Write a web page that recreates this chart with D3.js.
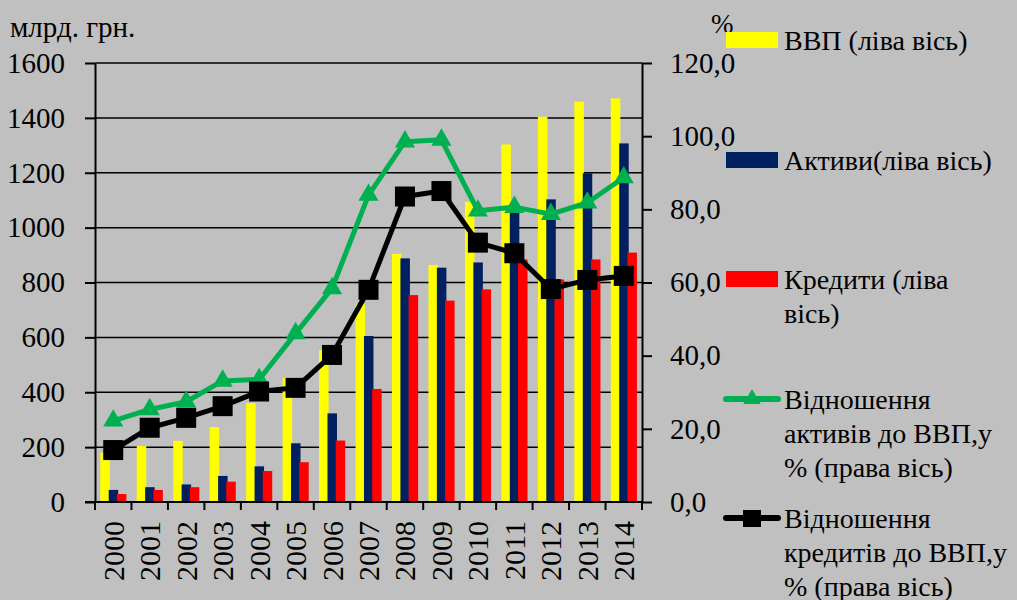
<!DOCTYPE html>
<html>
<head>
<meta charset="utf-8">
<script src="https://cdn.jsdelivr.net/npm/d3@7"></script>
<style>
  text { font-family: "Times New Roman", "Liberation Serif", serif !important; }
</style>
</head>
<body style="margin:0">
<div id="chart"></div>
<script>
let years = ["2000", "2001", "2002", "2003", "2004", "2005", "2006", "2007",
             "2008", "2009", "2010", "2011", "2012", "2013", "2014"];
let gdp = [180, 204, 223, 273, 360, 453, 554, 720, 904, 864, 1094, 1303, 1404, 1459, 1471];
let assets = [44, 54, 64, 95, 130, 214, 323, 605, 888, 854, 873, 1054, 1103, 1198, 1307];
let credits = [29, 44, 54, 74, 113, 145, 224, 412, 754, 734, 775, 884, 811, 884, 909];
let assetsRatio = [22.2, 25.3, 27.4, 33.1, 33.5, 46.1, 58.4, 83.9, 98.5, 99.0, 79.6, 80.6, 78.7, 81.8, 88.7];
let creditsRatio = [14.2, 20.3, 23.0, 26.2, 30.2, 31.2, 40.2, 58.0, 83.5, 85.0, 70.9, 68.0, 58.2, 60.7, 61.8];
let leftTicks = [0, 200, 400, 600, 800, 1000, 1200, 1400, 1600];
let rightTicks = [0, 20, 40, 60, 80, 100, 120];
let legendLabels = [
    ["ВВП (ліва вісь)"],
    ["Активи(ліва вісь)"],
    ["Кредити (ліва", "вісь)"],
    ["Відношення", "активів до ВВП,у", "% (права вісь)"],
    ["Відношення", "кредитів до ВВП,у", "% (права вісь)"]
];

let colorYellow = "#ffff00";
let colorNavy = "#002060";
let colorRed = "#ff0000";
let colorGreen = "#00b050";
let fontName = "Times New Roman";

let width = 1017,
    height = 600;

let svg = d3.select("#chart")
    .append("svg")
    .attr("width", width)
    .attr("height", height);

svg.append("rect")
    .attr("width", width)
    .attr("height", height)
    .attr("fill", "#c0c0c0");

let x = d3.scaleBand()
    .domain(years)
    .range([95, 642])
    .padding(0);

let yLeft = d3.scaleLinear()
    .domain([0, 1600])
    .range([502, 63]);

let yRight = d3.scaleLinear()
    .domain([0, 120])
    .range([502, 63]);

// gridlines
svg.selectAll(".grid")
    .data(leftTicks)
    .enter()
    .append("line")
    .attr("class", "grid")
    .attr("x1", 95)
    .attr("x2", 642)
    .attr("y1", function(d) { return yLeft(d); })
    .attr("y2", function(d) { return yLeft(d); })
    .attr("stroke", "#000")
    .attr("stroke-width", 1.5);

// bars: yellow, navy, red side by side with small overlap
let barW = 9.5;
let series = [
    {values: gdp, color: colorYellow, off: -8.2},
    {values: assets, color: colorNavy, off: 0.2},
    {values: credits, color: colorRed, off: 8.4}
];
years.forEach(function(yr, i) {
    series.forEach(function(s) {
        let cx = x(yr) + x.bandwidth() / 2 + s.off;
        svg.append("rect")
            .attr("x", cx - barW / 2)
            .attr("y", yLeft(s.values[i]))
            .attr("width", barW)
            .attr("height", yLeft(0) - yLeft(s.values[i]))
            .attr("fill", s.color);
    });
});

// axes
let leftAxis = svg.append("g")
    .attr("transform", "translate(95,0)")
    .call(d3.axisLeft(yLeft).tickValues(leftTicks).tickSize(10).tickPadding(20).tickSizeOuter(0)
        .tickFormat(d3.format("d")));

let rightAxis = svg.append("g")
    .attr("transform", "translate(642,0)")
    .call(d3.axisRight(yRight).tickValues(rightTicks).tickSize(10).tickPadding(18).tickSizeOuter(0)
        .tickFormat(function(d) { return d3.format(".1f")(d).replace(".", ","); }));

[leftAxis, rightAxis].forEach(function(ax) {
    ax.attr("font-family", fontName).attr("font-size", 29);
    ax.select(".domain").attr("stroke", "#000").attr("stroke-width", 2);
    ax.selectAll(".tick line").attr("stroke", "#000").attr("stroke-width", 2);
});

// bottom axis line and category boundary ticks
svg.append("line")
    .attr("x1", 85)
    .attr("x2", 642)
    .attr("y1", 502)
    .attr("y2", 502)
    .attr("stroke", "#000")
    .attr("stroke-width", 2);

svg.selectAll(".xtick")
    .data(years.concat(["end"]))
    .enter()
    .append("line")
    .attr("class", "xtick")
    .attr("x1", function(d, i) { return x.range()[0] + i * x.step(); })
    .attr("x2", function(d, i) { return x.range()[0] + i * x.step(); })
    .attr("y1", 502)
    .attr("y2", 510)
    .attr("stroke", "#000")
    .attr("stroke-width", 2);

svg.selectAll(".xlabel")
    .data(years)
    .enter()
    .append("text")
    .attr("class", "xlabel")
    .attr("transform", function(d) {
        return "translate(" + (x(d) + x.bandwidth() / 2) + ",521) rotate(-90)";
    })
    .attr("text-anchor", "end")
    .attr("dy", "0.35em")
    .attr("font-size", 30)
    .text(function(d) { return d; });

// ratio lines
let ratioLine = d3.line()
    .x(function(d, i) { return x(years[i]) + x.bandwidth() / 2; })
    .y(function(d) { return yRight(d); });

svg.append("path")
    .datum(assetsRatio)
    .attr("d", ratioLine)
    .attr("fill", "none")
    .attr("stroke", colorGreen)
    .attr("stroke-width", 5)
    .attr("stroke-linejoin", "round");

svg.append("path")
    .datum(creditsRatio)
    .attr("d", ratioLine)
    .attr("fill", "none")
    .attr("stroke", "#000")
    .attr("stroke-width", 5)
    .attr("stroke-linejoin", "round");

svg.selectAll(".tri")
    .data(assetsRatio)
    .enter()
    .append("path")
    .attr("class", "tri")
    .attr("d", d3.symbol().type(d3.symbolTriangle).size(175))
    .attr("transform", function(d, i) {
        return "translate(" + (x(years[i]) + x.bandwidth() / 2) + "," + yRight(d) + ")";
    })
    .attr("fill", colorGreen);

svg.selectAll(".sq")
    .data(creditsRatio)
    .enter()
    .append("rect")
    .attr("class", "sq")
    .attr("x", function(d, i) { return x(years[i]) + x.bandwidth() / 2 - 10; })
    .attr("y", function(d) { return yRight(d) - 10; })
    .attr("width", 20)
    .attr("height", 20)
    .attr("fill", "#000");

// axis titles
svg.append("text")
    .attr("x", 10)
    .attr("y", 37)
    .attr("font-size", 29)
    .text("млрд. грн.");

svg.append("text")
    .attr("x", 711)
    .attr("y", 33)
    .attr("font-size", 27)
    .text("%");

// legend
let legendY = [40, 160, 279, 399, 518];
let legend = svg.selectAll(".legend")
    .data(legendLabels)
    .enter()
    .append("g")
    .attr("class", "legend")
    .attr("transform", function(d, i) { return "translate(0," + legendY[i] + ")"; });

legend.each(function(d, i) {
    let g = d3.select(this);
    if (i < 3) {
        g.append("rect")
            .attr("x", 726)
            .attr("y", -8)
            .attr("width", 52)
            .attr("height", 16)
            .attr("fill", [colorYellow, colorNavy, colorRed][i]);
    } else {
        let c = i == 3 ? colorGreen : "#000";
        g.append("line")
            .attr("x1", 726)
            .attr("x2", 778)
            .attr("stroke", c)
            .attr("stroke-width", 6)
            .attr("stroke-linecap", "round");
        if (i == 3) {
            g.append("path")
                .attr("d", d3.symbol().type(d3.symbolTriangle).size(130))
                .attr("transform", "translate(752,0)")
                .attr("fill", c);
        } else {
            g.append("rect")
                .attr("x", 743)
                .attr("y", -8)
                .attr("width", 18)
                .attr("height", 17)
                .attr("fill", c);
        }
    }
    g.selectAll("text")
        .data(d)
        .enter()
        .append("text")
        .attr("x", 784)
        .attr("y", function(t, j) { return j * 34; })
        .attr("dy", "0.35em")
        .attr("font-size", 28)
        .text(function(t) { return t; });
});

// serif face on every text, as attribute and inline style
svg.selectAll("text")
    .attr("font-family", fontName)
    .style("font-family", fontName)
    .attr("fill", "#000");
svg.selectAll(".tick text")
    .attr("font-size", 29);
</script>
</body>
</html>
